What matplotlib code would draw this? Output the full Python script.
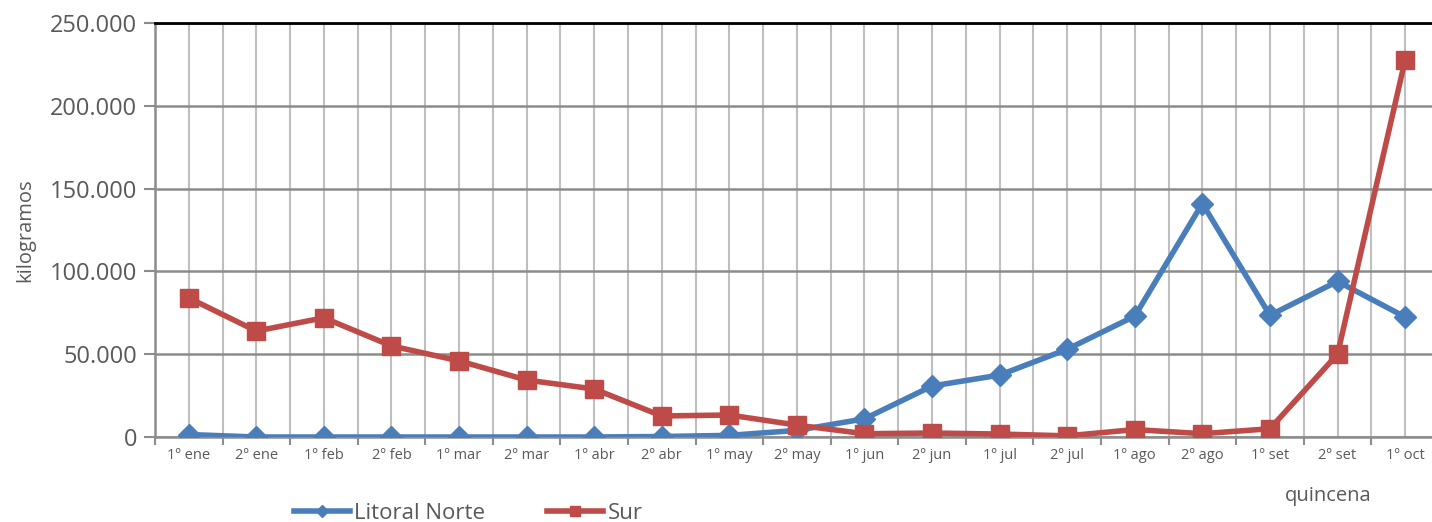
import matplotlib.pyplot as plt
import matplotlib.ticker as mticker
import numpy as np

plt.rcParams['font.family'] = ['Open Sans', 'DejaVu Sans']

quincenas = ["1º ene", "2º ene", "1º feb", "2º feb", "1º mar", "2º mar", "1º abr",
             "2º abr", "1º may", "2º may", "1º jun", "2º jun", "1º jul", "2º jul",
             "1º ago", "2º ago", "1º set", "2º set", "1º oct"]
litoral_norte = [1500, 0, 0, 0, 0, 0, 0, 300, 1000, 4000, 11000, 30800, 37400,
                 53000, 73000, 141000, 73500, 94000, 72500]
sur = [84000, 64000, 72000, 55000, 46000, 34400, 29000, 12700, 13300, 7200, 2000,
       2400, 1800, 700, 4500, 2000, 5000, 50000, 227500]

blue = "#4A7EBB"
red = "#BE4B48"
grey = "#595959"

fig = plt.figure(figsize=(14.32, 5.22), dpi=100)
ax = fig.add_axes([0.1082, 0.1628, 0.8966, 0.7931])

x = np.arange(len(quincenas))
ax.plot(x, litoral_norte, color=blue, lw=4, marker="D", ms=11, label="Litoral Norte",
        zorder=3)
ax.plot(x, sur, color=red, lw=4, marker="s", ms=13, label="Sur", zorder=4)

ax.set_xlim(-0.5, len(quincenas) - 0.5)
ax.set_ylim(0, 250000)
ax.yaxis.set_major_locator(mticker.MultipleLocator(50000))
ax.yaxis.set_major_formatter(mticker.FuncFormatter(lambda v, p: f"{int(v):,}".replace(",", ".")))

# vertical grid at centers and boundaries
for xi in np.arange(-0.5, len(quincenas), 0.5):
    ax.axvline(xi, color="#BFBFBF", lw=1.5, zorder=1)
ax.grid(axis="y", color="#8C8C8C", lw=1.8, zorder=1)

ax.set_xticks(x)
ax.set_xticklabels(quincenas, fontsize=10.5, color=grey)
ax.set_xticks(np.arange(-0.5, len(quincenas), 1), minor=True)
ax.tick_params(axis="x", which="major", length=0, pad=8)
ax.tick_params(axis="x", which="minor", length=6, color="#8C8C8C", width=1.5)
ax.tick_params(axis="y", length=8, color="#8C8C8C", width=1.5, labelsize=17,
               labelcolor=grey, pad=5)

for s in ["left", "bottom"]:
    ax.spines[s].set_color("#8C8C8C")
    ax.spines[s].set_linewidth(1.8)
ax.spines["top"].set_color("black")
ax.spines["top"].set_linewidth(2)
ax.spines["right"].set_visible(False)

ax.set_ylabel("kilogramos", fontsize=14.5, color=grey, labelpad=10)
fig.text(0.9275, 0.03, "quincena", fontsize=14.5, color=grey, ha="center", va="bottom")

ax.legend(loc="center", bbox_to_anchor=(0.327, 0.016), bbox_transform=fig.transFigure,
          ncol=2, frameon=False, fontsize=16, handlelength=2.5, columnspacing=2.8,
          handletextpad=0.2, labelcolor=grey, markerscale=0.6)

plt.savefig("out.png", dpi=100)
